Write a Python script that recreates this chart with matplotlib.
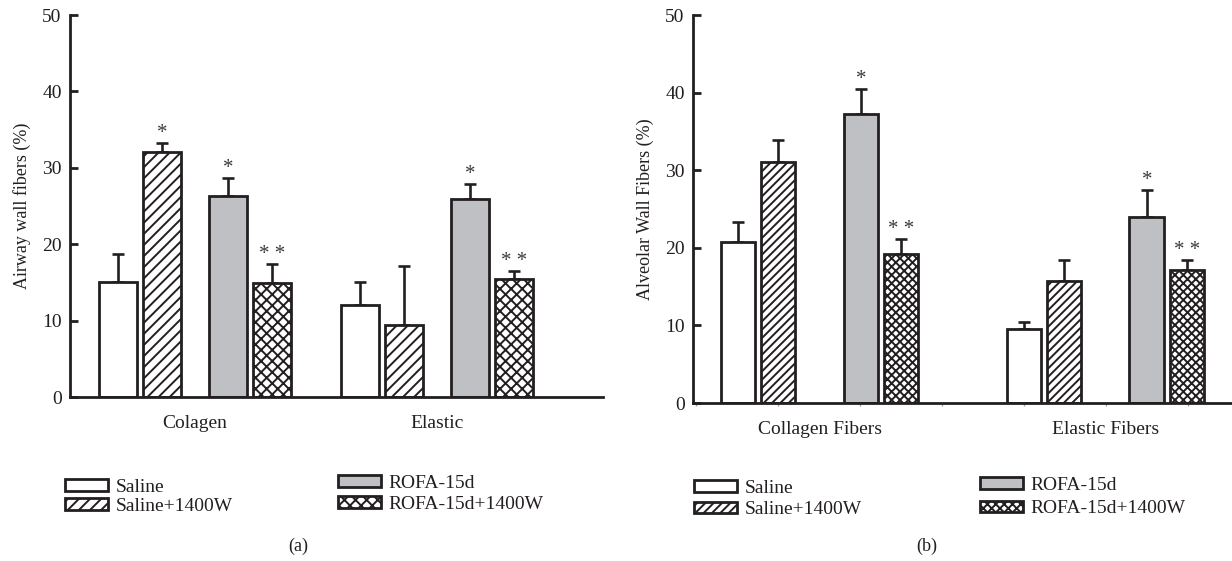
import numpy as np
import matplotlib
matplotlib.use("Agg")
from matplotlib import pyplot as plt

plt.rcParams["font.family"] = ["Liberation Serif", "DejaVu Serif"]
plt.rcParams["hatch.linewidth"] = 1.4
plt.rcParams["text.color"] = "#231f20"
plt.rcParams["axes.labelcolor"] = "#231f20"

INK = "#231f20"
GREY = "#bfc0c4"

series = ["Saline", "Saline+1400W", "ROFA-15d", "ROFA-15d+1400W"]
groups_a = ["Colagen", "Elastic"]
groups_b = ["Collagen Fibers", "Elastic Fibers"]

# one row per series, one value per group
a_mean = [[15.0, 12.0], [32.1, 9.4], [26.3, 25.9], [14.9, 15.4]]
a_sem = [[3.7, 3.1], [1.1, 7.7], [2.3, 2.0], [2.5, 1.1]]
a_sig = [["", ""], ["*", ""], ["*", "*"], ["**", "**"]]

b_mean = [[20.7, 9.6], [31.1, 15.7], [37.2, 24.0], [19.2, 17.2]]
b_sem = [[2.6, 0.8], [2.8, 2.7], [3.2, 3.5], [1.9, 1.2]]
b_sig = [["", ""], ["", ""], ["*", "*"], ["**", "**"]]

yticks = [0, 10, 20, 30, 40, 50]

fills = ["white", "white", GREY, "white"]
hatches_a = [None, "///", None, "xxx"]
hatches_b = [None, "////", None, "xxxx"]


def draw_panel(ax, groups, mean, sem, sig, offsets, width, hatches, ylabel, xlim):
    x = np.arange(len(groups))
    handles = []
    for i in range(len(series)):
        xs = x + offsets[i]
        bc = ax.bar(xs, mean[i], width, color=fills[i], edgecolor=INK,
                    linewidth=2.0, hatch=hatches[i], label=series[i], zorder=2)
        handles.append(bc)
        ax.errorbar(xs, mean[i], yerr=[np.zeros(len(groups)), sem[i]], fmt="none",
                    ecolor=INK, elinewidth=1.9, capsize=4, capthick=1.9, zorder=1)
        for xv, m, s, star in zip(xs, mean[i], sem[i], sig[i]):
            if star:
                ax.annotate(" ".join(star), (xv, m + s), xytext=(0, 0),
                            textcoords="offset points", ha="center", va="bottom",
                            fontsize=15, color="#3a3a3a")
    ax.set_ylim(0, 50)
    ax.set_xlim(*xlim)
    ax.set_yticks(yticks)
    ax.set_xticks(x, groups)
    ax.spines[["top", "right"]].set_visible(False)
    for sp in ["left", "bottom"]:
        ax.spines[sp].set_linewidth(2.0)
        ax.spines[sp].set_color(INK)
    ax.tick_params(axis="y", direction="in", length=6, width=2.0, color=INK,
                   labelsize=14, pad=6, labelcolor=INK)
    ax.tick_params(axis="x", which="major", length=0, labelsize=14, pad=13,
                   labelcolor=INK)
    ax.set_ylabel(ylabel, fontsize=13, labelpad=8)
    return handles


fig = plt.figure(figsize=(12.32, 5.61), dpi=100)
W, H = 1232, 561

ax_a = fig.add_axes([70 / W, 1 - 397 / H, (603 - 70) / W, (397 - 15) / H])
ax_b = fig.add_axes([693 / W, 1 - 403 / H, (1232 - 693) / W, (403 - 15) / H])

h_a = draw_panel(ax_a, groups_a, a_mean, a_sem, a_sig,
                 [-0.318, -0.136, 0.136, 0.318], 0.155, hatches_a,
                 "Airway wall fibers (%)", (-0.517, 1.686))
h_b = draw_panel(ax_b, groups_b, b_mean, b_sem, b_sig,
                 [-0.287, -0.147, 0.143, 0.283], 0.121, hatches_b,
                 "Alveolar Wall Fibers (%)", (-0.444, 1.441))

# faint minor ticks along the x axis of (b)
ax_b.set_xticks(np.arange(-0.433, 1.44, 0.2867), minor=True)
ax_b.tick_params(axis="x", which="minor", direction="out", length=2.5, width=1,
                 color="#a0a0a0")

leg_kw = dict(loc="center left", frameon=False, borderpad=0, borderaxespad=0,
              handlelength=2.2, handleheight=0.55, handletextpad=0.4,
              fontsize=14)

legs = [
    (h_a[:2], series[:2], 65, 497, 0.12),
    (h_a[2:], series[2:], 338, 494, 0.2),
    (h_b[:2], series[:2], 694, 499, 0.25),
    (h_b[2:], series[2:], 980, 497, 0.35),
]
for hs, labs, px, py, sp in legs:
    fig.legend(hs, labs, bbox_to_anchor=(px / W, 1 - py / H), labelspacing=sp,
               **leg_kw)

fig.text(298 / W, 1 - 546 / H, "(a)", ha="center", va="center", fontsize=13)
fig.text(927 / W, 1 - 546 / H, "(b)", ha="center", va="center", fontsize=13)

fig.savefig("out.png", dpi=100)
